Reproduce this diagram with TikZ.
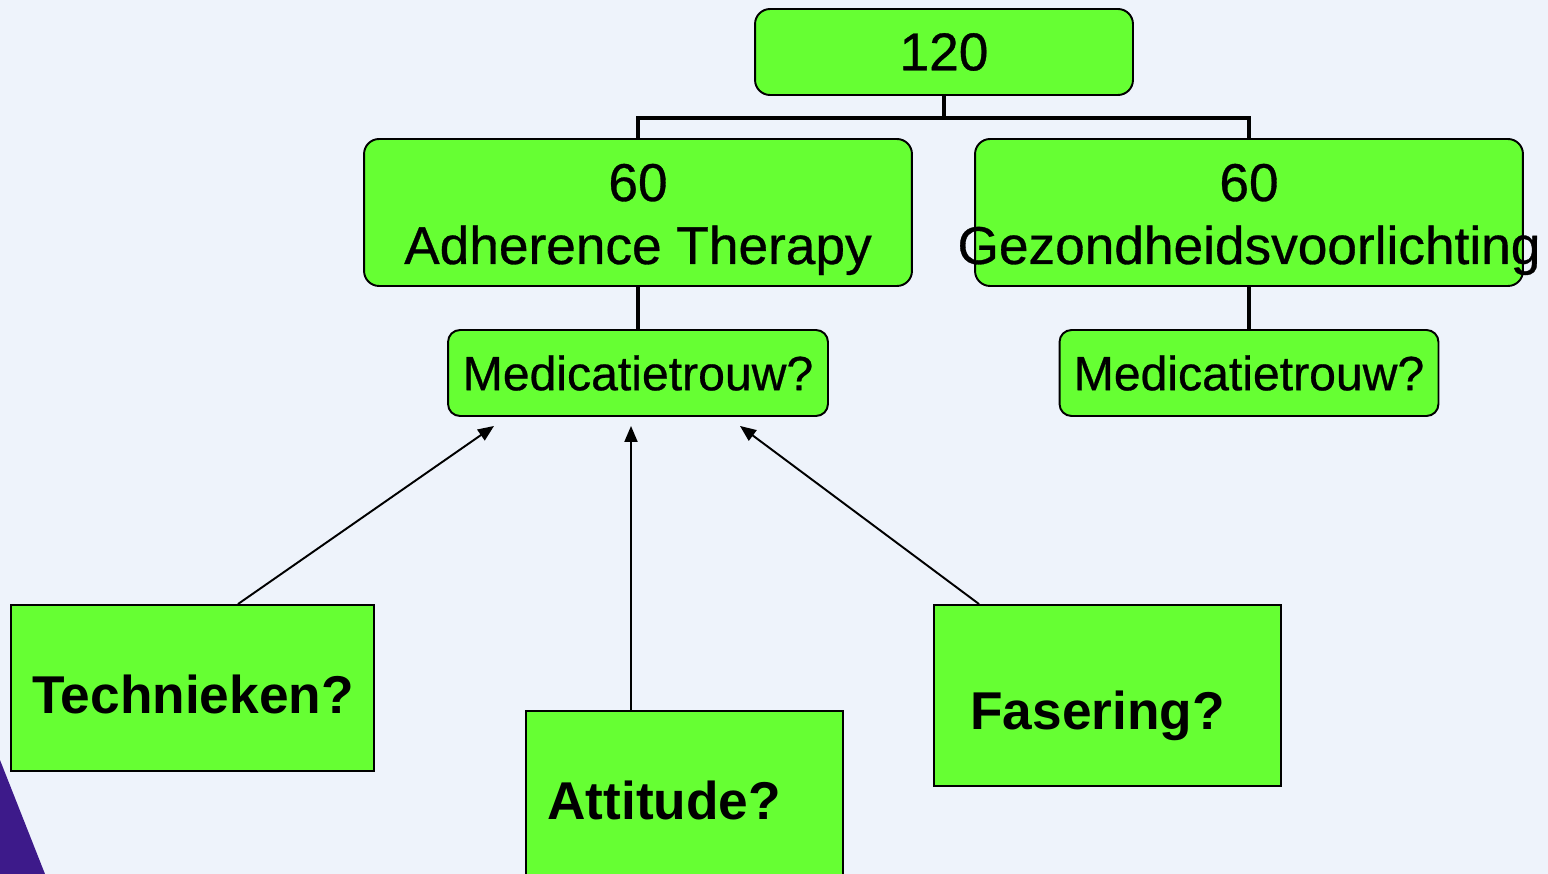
\documentclass[tikz,border=0pt]{standalone}
\usepackage{fontspec}
\setmainfont{Liberation Sans}
\newfontfamily\slidefont{Liberation Sans}[FakeBold=0.6]
\usetikzlibrary{arrows.meta}
\definecolor{boxgreen}{HTML}{66FF33}
\definecolor{slidebg}{HTML}{EEF3FB}
\definecolor{slidepurple}{HTML}{3D1A8A}

\begin{document}
\begin{tikzpicture}[x=0.02cm, y=-0.02cm,
    roundbox/.style={draw, fill=boxgreen, line width=1.1pt, rounded corners=0.3cm, inner sep=0pt},
    smallbox/.style={roundbox, rounded corners=0.24cm, font=\slidefont\fontsize{27.4}{32}\selectfont},
    squarebox/.style={draw, fill=boxgreen, line width=1.1pt, inner sep=0pt},
    bigtext/.style={anchor=base, inner sep=0pt, font=\slidefont\fontsize{30.3}{36}\selectfont},
    boldtext/.style={anchor=base west, inner sep=0pt, font=\fontsize{30.3}{36}\selectfont\bfseries},
    tree/.style={line width=2.6pt},
    pointer/.style={line width=1.1pt, -{Triangle[length=0.32cm, width=0.26cm]}}]

    \fill[slidebg] (0,0) rectangle (1548,874);
    \useasboundingbox (0,0) rectangle (1548,874);
    \clip (0,0) rectangle (1548,874);
    \fill[slidepurple] (0,760) -- (45,874) -- (0,874) -- cycle;

    \node[roundbox, minimum width=7.56cm, minimum height=1.72cm, font=\slidefont\fontsize{30.3}{36}\selectfont] (top) at (944,52) {120};

    \node[roundbox, minimum width=10.96cm, minimum height=2.94cm] (adh) at (638,212.5) {};
    \node[roundbox, minimum width=10.96cm, minimum height=2.94cm] (gez) at (1249,212.5) {};
    \node[bigtext] (adhnum) at (638,201) {60};
    \node[bigtext] (adhname) at (638,264) {Adherence Therapy};
    \node[bigtext] (geznum) at (1249,201) {60};
    \node[bigtext] (gezname) at (1249,264) {Gezondheidsvoorlichting};

    \node[smallbox, minimum width=7.6cm, minimum height=1.72cm] (medL) at (638,373) {Medicatietrouw?};
    \node[smallbox, minimum width=7.58cm, minimum height=1.72cm] (medR) at (1249,373) {Medicatietrouw?};

    \draw[tree] (top.south) -- ++(0,22) -| (adh.north);
    \draw[tree] (top.south) -- ++(0,22) -| (gez.north);
    \draw[tree] (adh.south) -- (medL.north);
    \draw[tree] (gez.south) -- (medR.north);

    \node[squarebox, minimum width=7.26cm, minimum height=3.32cm] (tech) at (192.5,688) {};
    \node[squarebox, minimum width=6.34cm, minimum height=3.8cm] (att) at (684.5,806) {};
    \node[squarebox, minimum width=6.94cm, minimum height=3.62cm] (fas) at (1107.5,695.5) {};
    \node[boldtext] (techlabel) at (32,713) {Technieken?};
    \node[boldtext] (attlabel) at (547,819) {Attitude?};
    \node[boldtext] (faslabel) at (970,729) {Fasering?};

    \draw[pointer] ([xshift=0.91cm]tech.north) -- ([xshift=-2.88cm, yshift=-0.18cm]medL.south);
    \draw[pointer] ([xshift=-1.07cm]att.north) -- ([xshift=-0.14cm, yshift=-0.18cm]medL.south);
    \draw[pointer] ([xshift=-2.57cm]fas.north) -- ([xshift=2.04cm, yshift=-0.18cm]medL.south);
\end{tikzpicture}
\end{document}
